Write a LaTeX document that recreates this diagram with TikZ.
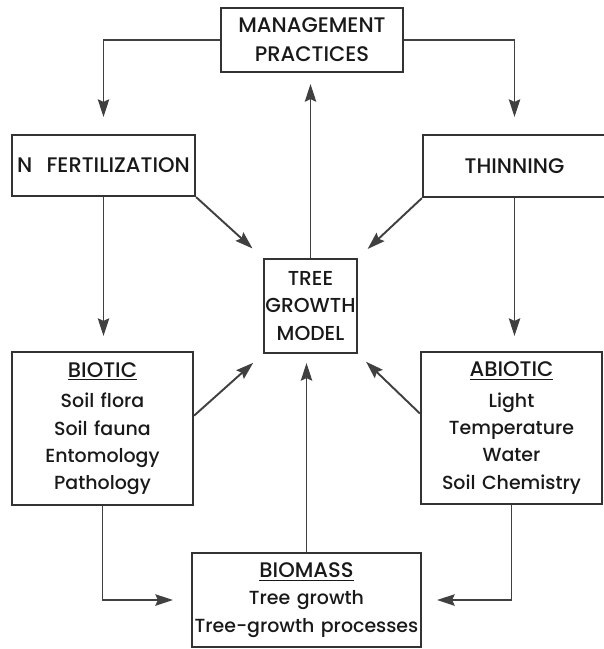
\documentclass[tikz,border=0pt]{standalone}
\usepackage{fontspec}
\setmainfont{Poppins Medium}[WordSpace=1.3]
\usetikzlibrary{arrows.meta}
\newcommand{\boxhead}[1]{{\fontsize{12}{15.5}\selectfont\underline{#1}}}

\begin{document}
\begin{tikzpicture}[x=0.02cm,y=-0.02cm,>={Stealth[length=10pt,width=6.5pt,inset=1.5pt]}]
\tikzstyle{box}=[draw=black!80,line width=1.3pt,inner sep=0pt,align=center,text=black!90,font=\fontsize{12}{15.5}\selectfont]
\tikzstyle{lst}=[box,font=\fontsize{10.8}{15.5}\selectfont]
\tikzstyle{flow}=[->,line width=1.1pt,draw=black!75]
\useasboundingbox (0,0) rectangle (603,649);
% management and the two practices
\node[box,minimum width=3.64cm,minimum height=1.28cm] (mgmt) at (312,40) {MANAGEMENT\\[1pt]PRACTICES};
\node[box,minimum width=3.66cm,minimum height=1.22cm] (nfert) at (103.5,165.5) {N\ \ FERTILIZATION};
\node[box,minimum width=3.66cm,minimum height=1.24cm] (thin) at (514.5,166) {THINNING};
% model in the middle
\node[lst,minimum width=1.86cm,minimum height=1.88cm,font=\fontsize{11.5}{15.5}\selectfont] (tgm) at (310.5,306) {TREE\\GROWTH\\MODEL};
% factors and biomass
\node[lst,minimum width=3.62cm,minimum height=3.06cm] (biotic) at (102.5,428.5) {\boxhead{BIOTIC}\\[2pt]Soil flora\\Soil fauna\\Entomology\\Pathology};
\node[lst,minimum width=3.62cm,minimum height=3.04cm] (abiotic) at (511.5,428) {\boxhead{ABIOTIC}\\[2pt]Light\\Temperature\\Water\\Soil Chemistry};
\node[lst,minimum width=4.58cm,minimum height=1.88cm] (biomass) at (306.5,600) {\boxhead{BIOMASS}\\Tree growth\\Tree-growth processes};
% connectors
\draw[flow,shorten >=0.34cm] (mgmt.west) -| (nfert.north);
\draw[flow,shorten >=0.34cm] (mgmt.east) -| (thin.north);
\draw[flow,shorten >=0.22cm] (tgm.north) -- (tgm.north |- mgmt.south);
\draw[flow,shorten >=0.28cm] (nfert.south east) -- (tgm.north west);
\draw[flow,shorten >=0.26cm] (thin.south west) -- (tgm.north east);
\draw[flow,shorten >=0.3cm] (nfert.south) -- (nfert.south |- biotic.north);
\draw[flow,shorten >=0.3cm] (thin.south) -- (thin.south |- abiotic.north);
\draw[flow,shorten >=0.26cm] (biotic.8) -- (tgm.south west);
\draw[flow,shorten >=0.22cm] (abiotic.171) -- (tgm.south east);
\draw[flow,shorten >=0.18cm] (biomass.north) -- (biomass.north |- tgm.south);
\draw[flow,shorten >=0.36cm] (biotic.south) |- (biomass.west);
\draw[flow,shorten >=0.3cm] (abiotic.south) |- (biomass.east);
\end{tikzpicture}
\end{document}
